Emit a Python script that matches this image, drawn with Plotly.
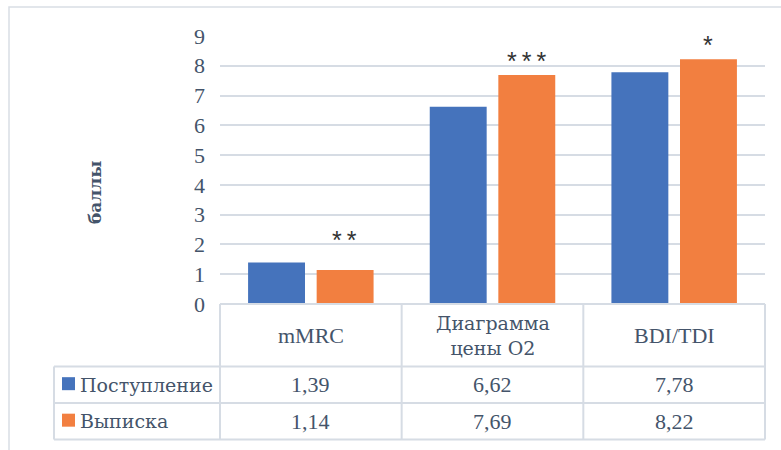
import plotly.graph_objects as go

# Data
categories = ["mMRC", "Диаграмма цены O2", "BDI/TDI"]
header_labels = ["mMRC", "Диаграмма<br>цены O2", "BDI/TDI"]
series_names = ["Поступление", "Выписка"]
admission = [1.39, 6.62, 7.78]
discharge = [1.14, 7.69, 8.22]
significance = ["*\u2009*", "*\u2009*\u2009*", "*"]
y_ticks = [0, 1, 2, 3, 4, 5, 6, 7, 8, 9]
y_title = "баллы"

# Styling
W, H = 781, 450
L, R, T, B = 220, 16, 36, 146
PW, PH = W - L - R, H - T - B
TEXT = "#44546A"
LINE = "#D6DCE4"
BLUE = "#4573BC"
ORANGE = "#F27F40"
SERIF = "Liberation Serif"
CYR_SERIF = "DejaVu Serif"
FS = 22
FS_CYR = 19


def px_x(px):
    return (px - L) / PW


def px_y(py):
    return (H - B - py) / PH


def font_for(text, size=None):
    has_cyr = any("\u0400" <= ch <= "\u04ff" for ch in text)
    if has_cyr:
        return dict(family=CYR_SERIF, size=size or FS_CYR, color=TEXT)
    return dict(family=SERIF, size=size or FS, color=TEXT)


fig = go.Figure()
fig.add_trace(go.Bar(x=categories, y=admission, name=series_names[0],
                     marker=dict(color=BLUE, line=dict(width=0))))
fig.add_trace(go.Bar(x=categories, y=discharge, name=series_names[1],
                     marker=dict(color=ORANGE, line=dict(width=0))))

shapes = []
annotations = []

# outer chart frame
shapes.append(dict(type="rect", xref="paper", yref="paper",
                   x0=px_x(9), x1=px_x(800), y0=px_y(7), y1=px_y(470),
                   line=dict(color="#D9DEE5", width=1.5), layer="below"))

# data table grid
col_edges = [i / len(categories) for i in range(len(categories) + 1)]
label_left = px_x(54)
row_lines = [px_y(304), px_y(366.5), px_y(403), px_y(439.5)]
line_style = dict(color=LINE, width=2)
shapes.append(dict(type="line", xref="paper", yref="paper", x0=0, x1=1,
                   y0=row_lines[0], y1=row_lines[0], line=line_style))
for yl in row_lines[1:]:
    shapes.append(dict(type="line", xref="paper", yref="paper", x0=label_left, x1=1,
                       y0=yl, y1=yl, line=line_style))
for xe in col_edges:
    shapes.append(dict(type="line", xref="paper", yref="paper", x0=xe, x1=xe,
                       y0=row_lines[0], y1=row_lines[-1], line=line_style))
shapes.append(dict(type="line", xref="paper", yref="paper", x0=label_left, x1=label_left,
                   y0=row_lines[1], y1=row_lines[-1], line=line_style))

# header cells
for i, lab in enumerate(header_labels):
    annotations.append(dict(xref="paper", yref="paper",
                            x=(col_edges[i] + col_edges[i + 1]) / 2,
                            y=(row_lines[0] + row_lines[1]) / 2,
                            text=lab, showarrow=False, font=font_for(lab),
                            xanchor="center", yanchor="middle"))

# value rows with legend keys
key_colors = [BLUE, ORANGE]
for r, (name, vals) in enumerate(zip(series_names, [admission, discharge])):
    yc = (row_lines[r + 1] + row_lines[r + 2]) / 2
    for i, v in enumerate(vals):
        annotations.append(dict(xref="paper", yref="paper",
                                x=(col_edges[i] + col_edges[i + 1]) / 2, y=yc,
                                text=f"{v:.2f}".replace(".", ","), showarrow=False,
                                font=font_for("0"), xanchor="center", yanchor="middle"))
    annotations.append(dict(xref="paper", yref="paper", x=px_x(78), y=yc,
                            text=name, showarrow=False, font=font_for(name),
                            xanchor="left", yanchor="middle"))
    key_h = 13 / PH
    shapes.append(dict(type="rect", xref="paper", yref="paper",
                       x0=px_x(62), x1=px_x(75), y0=yc - key_h / 2 + 0.004,
                       y1=yc + key_h / 2 + 0.004,
                       fillcolor=key_colors[r], line=dict(width=0)))

# significance marks above the discharge bars
mark_shift = [14, -2, -2]
for i, (c, v, s) in enumerate(zip(categories, discharge, significance)):
    annotations.append(dict(x=c, y=v, xref="x", yref="y", text=s, showarrow=False,
                            xshift=34, yshift=mark_shift[i], yanchor="bottom",
                            font=dict(family="Liberation Sans", size=25,
                                      color="#333333")))

# axis title
annotations.append(dict(xref="paper", yref="paper", x=px_x(95), y=px_y(193),
                        text=f"<b>{y_title}</b>", textangle=-90, showarrow=False,
                        font=font_for(y_title, size=17),
                        xanchor="center", yanchor="middle"))

fig.update_layout(
    width=W, height=H,
    margin=dict(l=L, r=R, t=T, b=B, pad=0),
    paper_bgcolor="white", plot_bgcolor="white",
    barmode="group", bargap=0.245, bargroupgap=0.17,
    showlegend=False,
    shapes=shapes, annotations=annotations,
    xaxis=dict(showticklabels=False, showgrid=False, showline=False, ticks=""),
    yaxis=dict(range=[0, 9], tickvals=y_ticks, showgrid=True, gridcolor=LINE,
               gridwidth=2, zeroline=False, showline=False, ticks="",
               ticklabelstandoff=14,
               tickfont=dict(family=SERIF, size=FS, color=TEXT)),
)

fig.write_html("out.html")
